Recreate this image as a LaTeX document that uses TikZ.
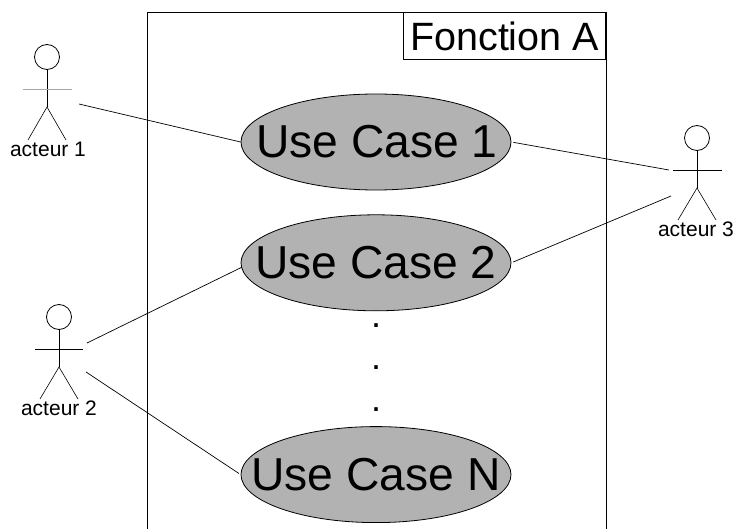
\documentclass[tikz,border=0pt]{standalone}
\usepackage{fontspec}
\setmainfont{Liberation Sans}
\usetikzlibrary{shapes.geometric, positioning}

\begin{document}
\begin{tikzpicture}[
    x=1pt, y=-1pt,
    line width=0.8pt,
    usecase/.style={
        ellipse,
        draw=black,
        fill=gray!60,
        minimum width=270pt,
        minimum height=96pt,
        inner sep=0pt,
        font=\fontsize{46.2}{50}\selectfont
    },
    titre/.style={
        draw=black,
        minimum width=202pt,
        minimum height=47pt,
        inner sep=0pt,
        font=\fontsize{39.5}{44}\selectfont
    },
    tete/.style={
        circle,
        draw=black,
        minimum size=25pt,
        inner sep=0pt
    },
    nomacteur/.style={
        inner sep=0pt,
        font=\fontsize{21}{24}\selectfont
    },
    point/.style={
        font=\fontsize{36}{38}\selectfont,
        inner sep=0pt
    },
    lien/.style={
        line width=0.7pt
    },
    membre/.style={
        line width=0.6pt
    }
]
\useasboundingbox (0,0) rectangle (734,529);

% Systeme
\coordinate (sysbasg) at (147,529);
\coordinate (syshautg) at (147,12);
\coordinate (syshautd) at (606,12);
\coordinate (sysbasd) at (606,529);
\draw (sysbasg) -- (syshautg) -- (syshautd) -- (sysbasd);

\node (fonction) [titre, anchor=north east] at (syshautd) {Fonction A};

% Cas d'utilisation
\node (uc1) [usecase] at (376,142) {\makebox[0pt]{\hspace{2pt}Use Case 1}};
\node (uc2) [usecase, below=24pt of uc1] {\makebox[0pt]{Use Case 2}};
\node (ucn) [usecase, below=115pt of uc2] {\makebox[0pt]{Use Case N}};

\node (p1) [point] at (376,326) {.};
\node (p2) [point] at (376,368) {.};
\node (p3) [point] at (376,410) {.};

% Acteur 1
\node (tete1) [tete] at (47,57) {};
\coordinate (bras1g) at (23,89);
\coordinate (bras1d) at (72,89);
\coordinate (hanche1) at (47,107);
\coordinate (pied1g) at (28,140);
\coordinate (pied1d) at (66,140);
\draw (tete1.south) -- (hanche1);
\draw[gray!70] (bras1g) -- (bras1d);
\draw[membre] (pied1g) -- (hanche1) -- (pied1d);
\node (acteur1) [nomacteur] at (48,149) {acteur 1};

% Acteur 2
\node (tete2) [tete] at (59,317) {};
\coordinate (bras2g) at (35,349);
\coordinate (bras2d) at (83,349);
\coordinate (hanche2) at (59,367);
\coordinate (pied2g) at (40,399);
\coordinate (pied2d) at (78,399);
\draw (tete2.south) -- (hanche2);
\draw (bras2g) -- (bras2d);
\draw[membre] (pied2g) -- (hanche2) -- (pied2d);
\node (acteur2) [nomacteur] at (59,408) {acteur 2};

% Acteur 3
\node (tete3) [tete] at (697,138) {};
\coordinate (bras3g) at (673,170);
\coordinate (bras3d) at (722,170);
\coordinate (hanche3) at (697,188);
\coordinate (pied3g) at (678,220);
\coordinate (pied3d) at (716,220);
\draw (tete3.south) -- (hanche3);
\draw (bras3g) -- (bras3d);
\draw[membre] (pied3g) -- (hanche3) -- (pied3d);
\node (acteur3) [nomacteur] at (696,229) {acteur 3};

% Liens
\coordinate (a1) at (79,104);
\coordinate (a2h) at (87,343);
\coordinate (a2b) at (86,372);
\coordinate (a3h) at (669,170);
\coordinate (a3b) at (671,196);

\draw[lien] (a1) -- (uc1.west);
\draw[lien] (a2h) -- (uc2.182);
\draw[lien, shorten >=2pt] (a2b) -- (ucn.west);
\draw[lien, shorten <=2pt] (uc1.east) -- (a3h);
\draw[lien, shorten <=2pt] (uc2.east) -- (a3b);

\end{tikzpicture}
\end{document}
